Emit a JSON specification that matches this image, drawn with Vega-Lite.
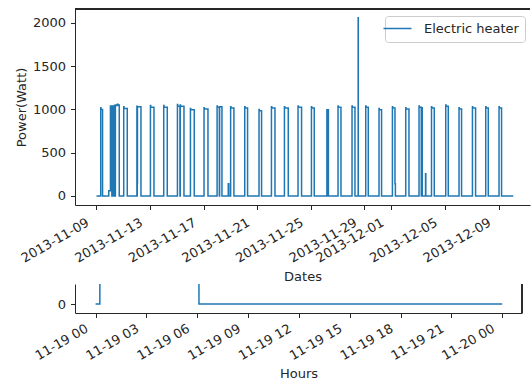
{
  "$schema": "https://vega.github.io/schema/vega-lite/v6.json",
  "padding": {"left": 15, "top": 8, "right": 0, "bottom": 0},
  "spacing": 79,
  "bounds": "flush",
  "config": {
    "view": {"stroke": null},
    "font": "DejaVu Sans",
    "axis": {
      "labelFont": "DejaVu Sans", "labelFontSize": 13, "labelColor": "#262626",
      "titleFont": "DejaVu Sans", "titleFontSize": 13, "titleFontWeight": "normal", "titleColor": "#262626",
      "domainColor": "#262626", "tickColor": "#262626", "domainWidth": 1, "tickWidth": 1,
      "tickSize": 4.5, "labelPadding": 4.5, "grid": false, "labelOverlap": false, "labelFlush": false
    }
  },
  "datasets": {
    "top": [
      {"t": "2013-11-09T00:00", "w": 0},
      {"t": "2013-11-09T07:35", "w": 1020},
      {"t": "2013-11-09T08:05", "w": 1000},
      {"t": "2013-11-09T10:52", "w": 0},
      {"t": "2013-11-09T22:00", "w": 60},
      {"t": "2013-11-10T00:58", "w": 1040},
      {"t": "2013-11-10T03:30", "w": 0},
      {"t": "2013-11-10T03:50", "w": 1040},
      {"t": "2013-11-10T05:30", "w": 0},
      {"t": "2013-11-10T05:50", "w": 1035},
      {"t": "2013-11-10T07:40", "w": 0},
      {"t": "2013-11-10T08:00", "w": 1045},
      {"t": "2013-11-10T09:30", "w": 0},
      {"t": "2013-11-10T09:50", "w": 1050},
      {"t": "2013-11-10T12:00", "w": 1045},
      {"t": "2013-11-10T13:30", "w": 1060},
      {"t": "2013-11-10T14:30", "w": 1050},
      {"t": "2013-11-10T16:46", "w": 0},
      {"t": "2013-11-11T00:46", "w": 1030},
      {"t": "2013-11-11T01:16", "w": 1010},
      {"t": "2013-11-11T07:06", "w": 0},
      {"t": "2013-11-12T00:22", "w": 1035},
      {"t": "2013-11-12T00:50", "w": 0},
      {"t": "2013-11-12T01:00", "w": 140},
      {"t": "2013-11-12T01:20", "w": 1030},
      {"t": "2013-11-12T07:39", "w": 0},
      {"t": "2013-11-13T00:36", "w": 1045},
      {"t": "2013-11-13T01:06", "w": 1025},
      {"t": "2013-11-13T06:56", "w": 0},
      {"t": "2013-11-14T00:25", "w": 1045},
      {"t": "2013-11-14T00:55", "w": 1025},
      {"t": "2013-11-14T06:44", "w": 0},
      {"t": "2013-11-15T00:58", "w": 1055},
      {"t": "2013-11-15T01:30", "w": 1035},
      {"t": "2013-11-15T05:30", "w": 0},
      {"t": "2013-11-15T06:00", "w": 1050},
      {"t": "2013-11-15T06:30", "w": 1035},
      {"t": "2013-11-15T12:40", "w": 0},
      {"t": "2013-11-16T00:15", "w": 1010},
      {"t": "2013-11-16T00:45", "w": 995},
      {"t": "2013-11-16T07:06", "w": 0},
      {"t": "2013-11-17T00:36", "w": 1020},
      {"t": "2013-11-17T01:06", "w": 1005},
      {"t": "2013-11-17T07:39", "w": 0},
      {"t": "2013-11-18T00:00", "w": 1040},
      {"t": "2013-11-18T00:30", "w": 1025},
      {"t": "2013-11-18T04:00", "w": 0},
      {"t": "2013-11-18T04:30", "w": 1030},
      {"t": "2013-11-18T08:42", "w": 0},
      {"t": "2013-11-18T20:00", "w": 140},
      {"t": "2013-11-18T21:00", "w": 0},
      {"t": "2013-11-19T00:15", "w": 1030},
      {"t": "2013-11-19T00:45", "w": 1015},
      {"t": "2013-11-19T06:06", "w": 0},
      {"t": "2013-11-20T01:30", "w": 1030},
      {"t": "2013-11-20T02:00", "w": 1015},
      {"t": "2013-11-20T06:34", "w": 0},
      {"t": "2013-11-21T03:06", "w": 1000},
      {"t": "2013-11-21T03:36", "w": 985},
      {"t": "2013-11-21T07:39", "w": 0},
      {"t": "2013-11-22T01:20", "w": 1030},
      {"t": "2013-11-22T01:50", "w": 1015},
      {"t": "2013-11-22T07:39", "w": 0},
      {"t": "2013-11-23T00:36", "w": 1030},
      {"t": "2013-11-23T01:06", "w": 1015},
      {"t": "2013-11-23T07:27", "w": 0},
      {"t": "2013-11-24T00:58", "w": 1040},
      {"t": "2013-11-24T01:28", "w": 1025},
      {"t": "2013-11-24T07:17", "w": 0},
      {"t": "2013-11-25T00:58", "w": 1030},
      {"t": "2013-11-25T01:28", "w": 1015},
      {"t": "2013-11-25T06:01", "w": 0},
      {"t": "2013-11-26T04:40", "w": 995},
      {"t": "2013-11-26T07:20", "w": 0},
      {"t": "2013-11-27T00:36", "w": 1040},
      {"t": "2013-11-27T01:06", "w": 1025},
      {"t": "2013-11-27T05:51", "w": 0},
      {"t": "2013-11-28T01:40", "w": 1040},
      {"t": "2013-11-28T02:10", "w": 1025},
      {"t": "2013-11-28T06:56", "w": 0},
      {"t": "2013-11-28T12:40", "w": 2057},
      {"t": "2013-11-28T12:50", "w": 0},
      {"t": "2013-11-29T02:13", "w": 1040},
      {"t": "2013-11-29T02:43", "w": 1025},
      {"t": "2013-11-29T06:44", "w": 0},
      {"t": "2013-11-30T02:01", "w": 1010},
      {"t": "2013-11-30T02:31", "w": 995},
      {"t": "2013-11-30T06:34", "w": 0},
      {"t": "2013-12-01T02:01", "w": 1030},
      {"t": "2013-12-01T02:31", "w": 1015},
      {"t": "2013-12-01T06:34", "w": 140},
      {"t": "2013-12-01T07:20", "w": 0},
      {"t": "2013-12-02T01:51", "w": 1020},
      {"t": "2013-12-02T02:21", "w": 1005},
      {"t": "2013-12-02T07:39", "w": 0},
      {"t": "2013-12-03T01:40", "w": 1040},
      {"t": "2013-12-03T02:10", "w": 1025},
      {"t": "2013-12-03T05:40", "w": 0},
      {"t": "2013-12-03T05:55", "w": 1020},
      {"t": "2013-12-03T07:27", "w": 0},
      {"t": "2013-12-03T13:20", "w": 257},
      {"t": "2013-12-03T13:50", "w": 0},
      {"t": "2013-12-04T00:00", "w": 1030},
      {"t": "2013-12-04T00:30", "w": 1015},
      {"t": "2013-12-04T04:58", "w": 0},
      {"t": "2013-12-05T01:30", "w": 1050},
      {"t": "2013-12-05T02:00", "w": 1035},
      {"t": "2013-12-05T06:01", "w": 0},
      {"t": "2013-12-06T01:20", "w": 1020},
      {"t": "2013-12-06T01:50", "w": 1005},
      {"t": "2013-12-06T05:51", "w": 0},
      {"t": "2013-12-07T01:20", "w": 1030},
      {"t": "2013-12-07T01:50", "w": 1015},
      {"t": "2013-12-07T06:56", "w": 0},
      {"t": "2013-12-08T01:08", "w": 1030},
      {"t": "2013-12-08T01:38", "w": 1015},
      {"t": "2013-12-08T05:40", "w": 0},
      {"t": "2013-12-09T00:58", "w": 1030},
      {"t": "2013-12-09T01:28", "w": 1015},
      {"t": "2013-12-09T05:29", "w": 0},
      {"t": "2013-12-10T02:30", "w": 0}
    ],
    "bottom": [
      {"t": "2013-11-19T00:00", "w": 0},
      {"t": "2013-11-19T00:15", "w": 1030},
      {"t": "2013-11-19T00:45", "w": 1015},
      {"t": "2013-11-19T06:06", "w": 0},
      {"t": "2013-11-20T00:00", "w": 0}
    ]
  },
  "resolve": {"scale": {"x": "independent", "y": "independent"}},
  "vconcat": [
    {
      "width": 455,
      "height": 196,
      "data": {"name": "top"},
      "layer": [
        {
          "mark": {"type": "line", "interpolate": "step-after", "strokeWidth": 1.5, "clip": true},
          "encoding": {
            "x": {
              "field": "t", "type": "temporal", "title": "Dates",
              "scale": {"domain": [
                {"year": 2013, "month": 11, "date": 7, "hours": 9, "minutes": 30},
                {"year": 2013, "month": 12, "date": 11, "hours": 8, "minutes": 25}
              ]},
              "axis": {
                "values": [
                  {"year": 2013, "month": 11, "date": 9},
                  {"year": 2013, "month": 11, "date": 13},
                  {"year": 2013, "month": 11, "date": 17},
                  {"year": 2013, "month": 11, "date": 21},
                  {"year": 2013, "month": 11, "date": 25},
                  {"year": 2013, "month": 11, "date": 29},
                  {"year": 2013, "month": 12, "date": 1},
                  {"year": 2013, "month": 12, "date": 5},
                  {"year": 2013, "month": 12, "date": 9}
                ],
                "format": "%Y-%m-%d",
                "labelAngle": -30, "labelAlign": "right", "labelBaseline": "top",
                "labelOffset": -12, "labelPadding": 6.5, "titlePadding": 5
              }
            },
            "y": {
              "field": "w", "type": "quantitative", "title": "Power(Watt)",
              "scale": {"domain": [-104, 2159], "nice": false, "zero": false},
              "axis": {"values": [0, 500, 1000, 1500, 2000], "format": "d", "labelPadding": 5, "titlePadding": 4}
            },
            "color": {
              "datum": "Electric heater",
              "scale": {"range": ["#1f77b4"]},
              "legend": {
                "orient": "none", "legendX": 310, "legendY": 7, "title": null,
                "symbolType": "M-2.8,0H2.8", "symbolSize": 100, "symbolStrokeWidth": 1.5,
                "labelFont": "DejaVu Sans", "labelFontSize": 13, "labelColor": "#262626",
                "labelOffset": 20, "padding": 6,
                "strokeColor": "#cccccc", "fillColor": "white", "cornerRadius": 3
              }
            }
          }
        },
        {
          "mark": {"type": "rule", "color": "#262626", "strokeWidth": 1},
          "encoding": {"y": {"datum": 2159}}
        }
      ]
    },
    {
      "width": 447,
      "height": 29,
      "data": {"name": "bottom"},
      "layer": [
        {
          "mark": {"type": "line", "interpolate": "step-after", "strokeWidth": 1.5, "clip": true, "color": "#1f77b4"},
          "encoding": {
            "x": {
              "field": "t", "type": "temporal", "title": "Hours",
              "scale": {"domain": [
                {"year": 2013, "month": 11, "date": 18, "hours": 22, "minutes": 47},
                {"year": 2013, "month": 11, "date": 20, "hours": 1, "minutes": 10}
              ]},
              "axis": {
                "values": [
                  {"year": 2013, "month": 11, "date": 19, "hours": 0},
                  {"year": 2013, "month": 11, "date": 19, "hours": 3},
                  {"year": 2013, "month": 11, "date": 19, "hours": 6},
                  {"year": 2013, "month": 11, "date": 19, "hours": 9},
                  {"year": 2013, "month": 11, "date": 19, "hours": 12},
                  {"year": 2013, "month": 11, "date": 19, "hours": 15},
                  {"year": 2013, "month": 11, "date": 19, "hours": 18},
                  {"year": 2013, "month": 11, "date": 19, "hours": 21},
                  {"year": 2013, "month": 11, "date": 20, "hours": 0}
                ],
                "format": "%m-%d %H",
                "labelAngle": -30, "labelAlign": "right", "labelBaseline": "top",
                "labelOffset": -12, "titlePadding": 5
              }
            },
            "y": {
              "field": "w", "type": "quantitative", "title": null,
              "scale": {"domain": [-9, 20], "nice": false, "zero": false},
              "axis": {"values": [0], "labelPadding": 5}
            }
          }
        },
        {
          "mark": {"type": "rule", "color": "#262626", "strokeWidth": 1},
          "encoding": {"x": {"datum": {"year": 2013, "month": 11, "date": 20, "hours": 1, "minutes": 10}}}
        }
      ]
    }
  ]
}
